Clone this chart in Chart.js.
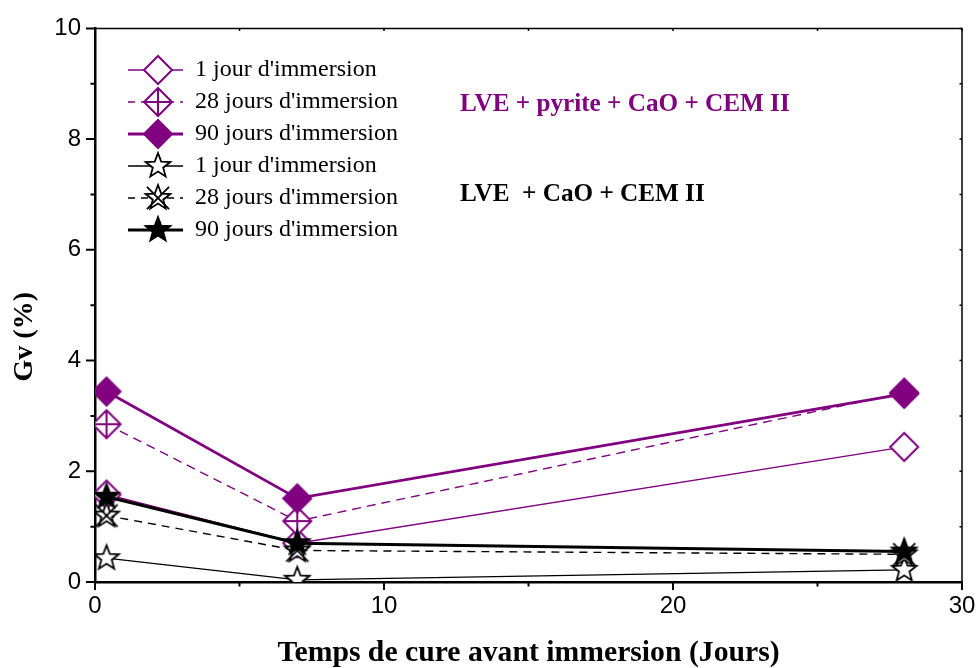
<!DOCTYPE html>
<html>
<head>
<meta charset="utf-8">
<script src="https://cdn.jsdelivr.net/npm/chart.js@4"></script>
<style>
  html, body { margin: 0; padding: 0; background: #fff; }
  #wrap { width: 979px; height: 668px; }
</style>
</head>
<body>
<div id="wrap"><canvas id="chart"></canvas></div>
<script>
// curing time before immersion (days)
const curingDays = [0.4, 7, 28];

// LVE + pyrite + CaO + CEM II
const pyrite1 = [1.58, 0.70, 2.44];
const pyrite28 = [2.85, 1.10, 3.42];
const pyrite90 = [3.44, 1.51, 3.40];

// LVE + CaO + CEM II
const plain1 = [0.43, 0.04, 0.22];
const plain28 = [1.20, 0.57, 0.50];
const plain90 = [1.54, 0.70, 0.55];

const seriesLabels = ["1 jour d'immersion", "28 jours d'immersion", "90 jours d'immersion",
                      "1 jour d'immersion", "28 jours d'immersion", "90 jours d'immersion"];
const xMajorTicks = [0, 10, 20, 30];
const xMinorTicks = [5, 15, 25];
const yMajorTicks = [0, 2, 4, 6, 8, 10];
const yMinorTicks = [1, 3, 5, 7, 9];

const PURPLE = "#800080";
const SERIF = "'Liberation Serif', 'Times New Roman', serif";
const SANS = "'Liberation Sans', Arial, sans-serif";

function makeCanvas(w, h) {
    const c = document.createElement("canvas");
    c.width = w; c.height = h;
    return c;
}

// marker shapes
function drawMarker(ctx, cx, cy, kind) {
    ctx.save();
    ctx.lineJoin = "miter";
    ctx.setLineDash([]);
    if (kind.startsWith("diamond")) {
        const r = 14;
        ctx.beginPath();
        ctx.moveTo(cx, cy - r); ctx.lineTo(cx + r, cy);
        ctx.lineTo(cx, cy + r); ctx.lineTo(cx - r, cy);
        ctx.closePath();
        ctx.fillStyle = kind === "diamondFilled" ? PURPLE : "#fff";
        ctx.fill();
        ctx.strokeStyle = PURPLE;
        ctx.lineWidth = 2;
        ctx.stroke();
        if (kind === "diamondCross") {
            ctx.beginPath();
            ctx.moveTo(cx, cy - r); ctx.lineTo(cx, cy + r);
            ctx.moveTo(cx - r, cy); ctx.lineTo(cx + r, cy);
            ctx.stroke();
        }
    } else {
        const R = 13, ri = R * 0.42;
        ctx.beginPath();
        for (let i = 0; i < 10; i++) {
            const a = -Math.PI / 2 + i * Math.PI / 5;
            const rr = i % 2 === 0 ? R : ri;
            const px = cx + rr * Math.cos(a), py = cy + rr * Math.sin(a);
            if (i === 0) ctx.moveTo(px, py); else ctx.lineTo(px, py);
        }
        ctx.closePath();
        ctx.fillStyle = kind === "starFilled" ? "#000" : "#fff";
        ctx.fill();
        ctx.strokeStyle = "#000";
        ctx.lineWidth = 1.8;
        ctx.stroke();
        if (kind === "starX") {
            const d = R * 0.85;
            ctx.beginPath();
            ctx.moveTo(cx - d, cy - d); ctx.lineTo(cx + d, cy + d);
            ctx.moveTo(cx + d, cy - d); ctx.lineTo(cx - d, cy + d);
            ctx.stroke();
        }
    }
    ctx.restore();
}

function pointImage(kind) {
    const c = makeCanvas(34, 34);
    drawMarker(c.getContext("2d"), 17, 17, kind);
    return c;
}

function legendIcon(kind, color, width, dash) {
    const c = makeCanvas(80, 34);
    const ctx = c.getContext("2d");
    ctx.strokeStyle = color;
    ctx.lineWidth = width;
    ctx.setLineDash(dash);
    ctx.beginPath();
    ctx.moveTo(25, 17); ctx.lineTo(80, 17);
    ctx.stroke();
    drawMarker(ctx, 55, 17, kind);
    return c;
}

const seriesDefs = [
    { label: seriesLabels[0], values: pyrite1,  color: PURPLE, width: 1.4, dash: [],     kind: "diamondOpen" },
    { label: seriesLabels[1], values: pyrite28, color: PURPLE, width: 1.4, dash: [9, 6], kind: "diamondCross" },
    { label: seriesLabels[2], values: pyrite90, color: PURPLE, width: 2.8, dash: [],     kind: "diamondFilled" },
    { label: seriesLabels[3], values: plain1,   color: "#000", width: 1.3, dash: [],     kind: "starOpen" },
    { label: seriesLabels[4], values: plain28,  color: "#000", width: 1.4, dash: [8, 6], kind: "starX" },
    { label: seriesLabels[5], values: plain90,  color: "#000", width: 3,   dash: [],     kind: "starFilled" }
];

const datasets = seriesDefs.map((s, i) => ({
    label: s.label,
    data: curingDays.map((d, k) => ({ x: d, y: s.values[k] })),
    borderColor: s.color,
    borderWidth: s.width,
    borderDash: s.dash,
    pointStyle: pointImage(s.kind),
    pointRadius: 14,
    tension: 0,
    fill: false,
    order: seriesDefs.length - i // later series on top
}));

const legendIcons = seriesDefs.map(s => legendIcon(s.kind, s.color, s.width, s.dash.length ? [7, 6] : []));

// frame, minor ticks and the two captions
const decorPlugin = {
    id: "decor",
    afterDraw(chart) {
        const { ctx, chartArea: a, scales: { x, y } } = chart;
        ctx.save();
        ctx.strokeStyle = "#000";
        ctx.lineWidth = 1.5;
        ctx.beginPath();
        ctx.moveTo(a.left, a.top); ctx.lineTo(a.right, a.top); ctx.lineTo(a.right, a.bottom);
        ctx.stroke();

        ctx.lineWidth = 2;
        ctx.beginPath();
        xMajorTicks.forEach(v => { const p = x.getPixelForValue(v); ctx.moveTo(p, a.bottom); ctx.lineTo(p, a.bottom + 8); });
        xMinorTicks.forEach(v => { const p = x.getPixelForValue(v); ctx.moveTo(p, a.bottom); ctx.lineTo(p, a.bottom + 4.5); });
        yMajorTicks.forEach(v => { const p = y.getPixelForValue(v); ctx.moveTo(a.left, p); ctx.lineTo(a.left - 9, p); });
        yMinorTicks.forEach(v => { const p = y.getPixelForValue(v); ctx.moveTo(a.left, p); ctx.lineTo(a.left - 4.5, p); });
        ctx.stroke();

        ctx.lineWidth = 1.5;
        ctx.beginPath();
        xMajorTicks.concat(xMinorTicks).forEach(v => { const p = x.getPixelForValue(v); ctx.moveTo(p, a.top); ctx.lineTo(p, a.top + 2.5); });
        yMajorTicks.concat(yMinorTicks).forEach(v => { const p = y.getPixelForValue(v); ctx.moveTo(a.right, p); ctx.lineTo(a.right - 2.5, p); });
        ctx.stroke();

        ctx.font = "bold 25.2px " + SERIF;
        ctx.textBaseline = "alphabetic";
        ctx.textAlign = "left";
        ctx.fillStyle = PURPLE;
        ctx.fillText("LVE + pyrite + CaO + CEM II", x.getPixelForValue(12.63), y.getPixelForValue(8.5));
        ctx.fillStyle = "#000";
        ctx.fillText("LVE  + CaO + CEM II", x.getPixelForValue(12.63), y.getPixelForValue(6.88));
        ctx.restore();
    }
};

const chart = new Chart(document.getElementById("chart"), {
    type: "line",
    data: { datasets },
    options: {
        responsive: true,
        maintainAspectRatio: false,
        animation: false,
        layout: { padding: { top: 25, right: 15, bottom: 0, left: 0 } },
        plugins: {
            tooltip: { enabled: false },
            legend: {
                position: "chartArea",
                align: "start",
                title: { display: true, text: "", font: { size: 10, lineHeight: 1 }, padding: { top: 40, bottom: 0 } },
                labels: {
                    usePointStyle: true,
                    pointStyleWidth: 80,
                    padding: 8,
                    color: "#000",
                    font: { family: SERIF, size: 24 },
                    generateLabels: (c) => c.data.datasets.map((ds, i) => ({
                        text: ds.label,
                        pointStyle: legendIcons[i],
                        datasetIndex: i,
                        fontColor: "#000",
                        lineWidth: 0,
                        hidden: false
                    }))
                }
            }
        },
        scales: {
            x: {
                type: "linear",
                min: 0, max: 30,
                afterFit: (s) => { s.height = 86; s.paddingRight = 15; s.paddingLeft = 0; },
                grid: { display: false, drawTicks: false },
                border: { display: true, color: "#000", width: 2.5 },
                ticks: { stepSize: 10, padding: 10, color: "#000", font: { family: SANS, size: 24 }, maxRotation: 0 },
                title: {
                    display: true,
                    text: "Temps de cure avant immersion (Jours)",
                    color: "#000",
                    font: { family: SERIF, size: 29.7, weight: "bold" },
                    padding: { top: 0, bottom: -3 }
                }
            },
            y: {
                min: 0, max: 10,
                afterFit: (s) => { s.width = 95; },
                grid: { display: false, drawTicks: false },
                border: { display: true, color: "#000", width: 2.5 },
                ticks: { stepSize: 2, padding: 14, color: "#000", font: { family: SANS, size: 24 } },
                title: {
                    display: true,
                    text: "Gv (%)" + "\u00A0".repeat(9),
                    color: "#000",
                    font: { family: SERIF, size: 28, weight: "bold" },
                    padding: { top: 8, bottom: 0 }
                }
            }
        }
    },
    plugins: [decorPlugin]
});
</script>
</body>
</html>
